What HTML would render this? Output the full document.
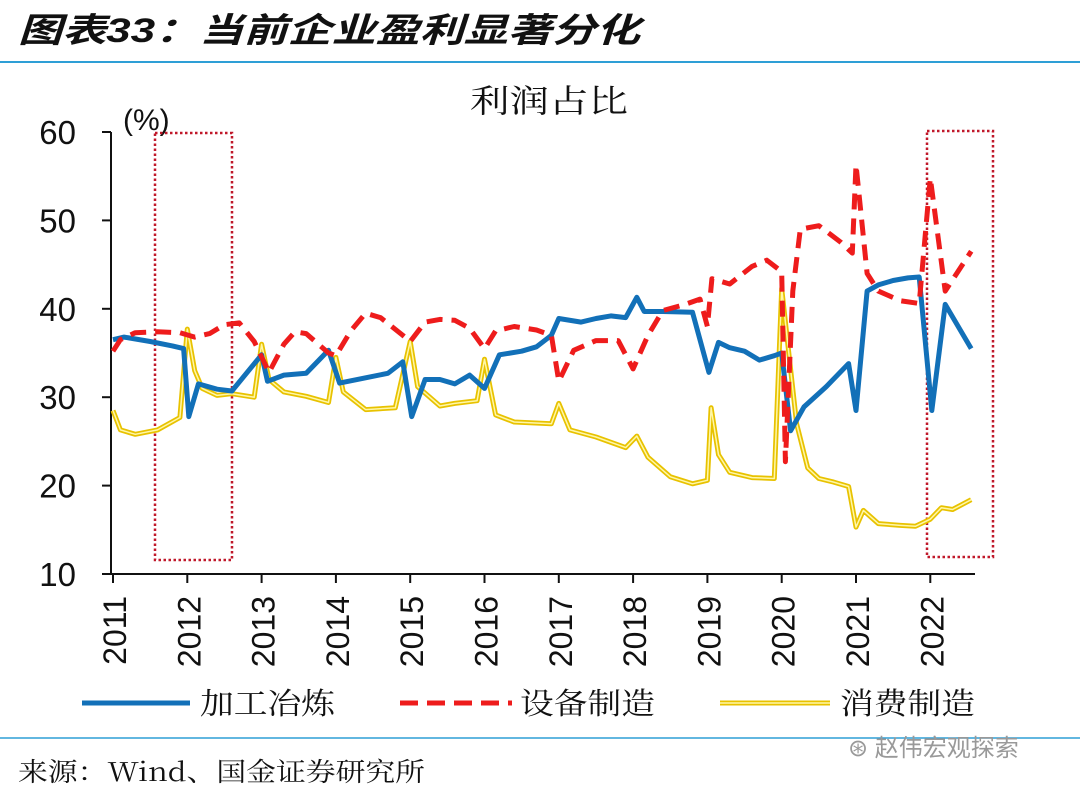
<!DOCTYPE html>
<html><head><meta charset="utf-8">
<style>
html,body{margin:0;padding:0;background:#fff;}
body{width:1080px;height:796px;overflow:hidden;position:relative;font-family:"Liberation Sans","Noto Sans CJK SC",sans-serif;}
</style></head>
<body>
<svg id="chart" width="1080" height="796" viewBox="0 0 1080 796" xmlns="http://www.w3.org/2000/svg">
<text x="18" y="42" font-size="34" font-weight="bold" font-style="italic" textLength="622" lengthAdjust="spacingAndGlyphs" font-family="Liberation Sans,Noto Sans CJK SC,sans-serif" fill="#111">图表33：当前企业盈利显著分化</text>
<line x1="0" y1="62" x2="1080" y2="62" stroke="#2e9fd6" stroke-width="2"/>
<text x="470" y="112" font-size="32" textLength="158" lengthAdjust="spacingAndGlyphs" font-family="Noto Serif CJK SC,serif" fill="#111">利润占比</text>
<text x="123" y="130" font-size="30" fill="#111">(%)</text>
<g id="axes"></g>
<g id="boxes"></g>
<g id="series"></g>
<g>
 <line x1="82" y1="703" x2="190" y2="703" stroke="#1270b8" stroke-width="5"/>
 <text x="200" y="714" font-size="30" textLength="135" lengthAdjust="spacingAndGlyphs" font-family="Noto Serif CJK SC,serif" fill="#111">加工冶炼</text>
 <line x1="400" y1="703" x2="512" y2="703" stroke="#ee1c1c" stroke-width="5" stroke-dasharray="18 9"/>
 <text x="520" y="714" font-size="30" textLength="135" lengthAdjust="spacingAndGlyphs" font-family="Noto Serif CJK SC,serif" fill="#111">设备制造</text>
 <line x1="720" y1="703" x2="830" y2="703" stroke="#e8c200" stroke-width="5"/>
 <line x1="720" y1="703" x2="830" y2="703" stroke="#fff7a8" stroke-width="1.5"/>
 <text x="840" y="714" font-size="30" textLength="135" lengthAdjust="spacingAndGlyphs" font-family="Noto Serif CJK SC,serif" fill="#111">消费制造</text>
</g>
<line x1="0" y1="738" x2="1080" y2="738" stroke="#2e9fd6" stroke-width="1.5"/>
<text x="848" y="756" font-size="24" fill="#999">⊛ 赵伟宏观探索</text>
<text x="18" y="781" font-size="26" textLength="407" lengthAdjust="spacingAndGlyphs" font-family="Noto Serif CJK SC,serif" fill="#111">来源：Wind、国金证券研究所</text>
</svg>
<script>
const yTicks=[10,20,30,40,50,60];
const xTicks=[2011,2012,2013,2014,2015,2016,2017,2018,2019,2020,2021,2022];
const procX=[2011.0,2011.15,2011.5,2011.8,2011.95,2012.02,2012.15,2012.4,2012.6,2013.0,2013.08,2013.3,2013.6,2013.9,2014.05,2014.4,2014.7,2014.9,2015.02,2015.2,2015.4,2015.6,2015.8,2016.0,2016.2,2016.5,2016.7,2016.9,2017.0,2017.3,2017.5,2017.7,2017.9,2018.05,2018.15,2018.4,2018.8,2019.02,2019.15,2019.3,2019.5,2019.7,2019.9,2020.0,2020.12,2020.3,2020.6,2020.9,2021.0,2021.15,2021.3,2021.5,2021.7,2021.85,2022.02,2022.2,2022.55];
const procY=[36.5,36.8,36.3,35.8,35.5,27.8,31.5,30.9,30.7,34.8,31.8,32.5,32.7,35.3,31.6,32.2,32.7,34.0,27.8,32.0,32.0,31.5,32.5,31.0,34.8,35.2,35.7,37.0,38.9,38.5,38.9,39.2,39.0,41.3,39.7,39.7,39.6,32.8,36.2,35.6,35.2,34.2,34.7,35.0,26.2,28.9,31.2,33.8,28.5,42.0,42.7,43.2,43.5,43.6,28.5,40.5,35.5];
const equipX=[2011.0,2011.1,2011.3,2011.6,2011.9,2012.1,2012.3,2012.5,2012.7,2012.9,2013.1,2013.3,2013.45,2013.6,2013.9,2014.0,2014.2,2014.4,2014.6,2014.9,2015.0,2015.2,2015.4,2015.6,2015.8,2016.0,2016.15,2016.4,2016.7,2016.9,2017.0,2017.2,2017.5,2017.8,2018.0,2018.2,2018.4,2018.7,2018.9,2019.0,2019.06,2019.3,2019.6,2019.8,2020.0,2020.05,2020.15,2020.25,2020.5,2020.8,2020.95,2021.0,2021.15,2021.3,2021.6,2021.85,2022.0,2022.2,2022.55];
const equipY=[35.2,36.5,37.3,37.4,37.3,36.8,37.2,38.2,38.4,36.3,32.8,36.0,37.4,37.2,35.0,34.7,37.5,39.5,39.0,37.0,36.3,38.5,38.8,38.7,37.8,35.5,37.5,38.0,37.6,37.0,31.8,35.3,36.4,36.4,33.2,37.0,39.8,40.5,41.1,38.0,43.4,42.8,44.8,45.5,44.2,22.7,42.0,49.0,49.4,47.5,46.3,56.3,44.0,42.0,40.9,40.6,54.8,42.0,46.5];
const consX=[2011.0,2011.1,2011.3,2011.6,2011.9,2012.0,2012.1,2012.2,2012.4,2012.6,2012.9,2013.0,2013.1,2013.3,2013.6,2013.9,2014.0,2014.1,2014.4,2014.8,2015.0,2015.1,2015.4,2015.6,2015.9,2016.0,2016.15,2016.4,2016.9,2017.0,2017.15,2017.5,2017.9,2018.05,2018.2,2018.5,2018.8,2019.0,2019.05,2019.15,2019.3,2019.6,2019.9,2020.0,2020.2,2020.35,2020.5,2020.7,2020.9,2021.0,2021.1,2021.3,2021.6,2021.8,2022.0,2022.15,2022.3,2022.55];
const consY=[28.5,26.3,25.8,26.3,27.7,37.7,33.0,31.0,30.2,30.4,30.0,36.0,32.0,30.6,30.1,29.4,34.5,30.6,28.6,28.8,36.3,31.2,29.0,29.3,29.6,34.3,28.0,27.2,27.0,29.3,26.3,25.5,24.3,25.6,23.2,21.0,20.2,20.6,28.8,23.5,21.5,20.9,20.8,42.3,27.0,22.0,20.8,20.4,19.9,15.3,17.2,15.7,15.5,15.4,16.2,17.5,17.3,18.4];

const NS='http://www.w3.org/2000/svg';
const X0=113, PXY=74.3, Y0=574, PXV=8.84;
function sx(v){return X0+(v-2011)*PXY;}
function sy(v){return Y0-(v-10)*PXV;}
function mk(tag,attrs,parent){const e=document.createElementNS(NS,tag);for(const k in attrs)e.setAttribute(k,attrs[k]);parent.appendChild(e);return e;}
const axes=document.getElementById('axes');
let e=mk('line',{x1:111,y1:sy(60),x2:111,y2:Y0+1,stroke:'#111','stroke-width':2},axes);


e=mk('line',{x1:102,y1:Y0,x2:975,y2:Y0,stroke:'#111','stroke-width':2},axes);


yTicks.forEach(v=>{
 const t=mk('line',{x1:102,y1:sy(v),x2:111,y2:sy(v),stroke:'#111','stroke-width':2},axes);
 
 
 const l=mk('text',{x:76,y:sy(v)+12,'font-size':33,'text-anchor':'end',fill:'#111'},axes);
 l.textContent=v;
 
 
});
xTicks.forEach(v=>{
 const x=sx(v);
 const t=mk('line',{x1:x,y1:Y0,x2:x,y2:Y0+9,stroke:'#111','stroke-width':2},axes);
 
 
 const l=mk('text',{x:0,y:0,'font-size':32,'text-anchor':'end',fill:'#111',transform:`translate(${x+13},596) rotate(-90)`},axes);
 l.textContent=v;
 
 
});
const boxes=document.getElementById('boxes');
e=mk('rect',{x:155,y:133,width:77,height:427,fill:'none',stroke:'#c0182a','stroke-width':2.5,'stroke-dasharray':'2.5 2.5'},boxes);


e=mk('rect',{x:927,y:131,width:66,height:426,fill:'none',stroke:'#c0182a','stroke-width':2.5,'stroke-dasharray':'2.5 2.5'},boxes);


function pts(xs,ys){return xs.map((x,i)=>sx(x).toFixed(1)+','+sy(ys[i]).toFixed(1)).join(' ');}
const g=document.getElementById('series');
e=mk('polyline',{points:pts(consX,consY),fill:'none',stroke:'#e8c200','stroke-width':5,'stroke-linejoin':'round'},g);


e=mk('polyline',{points:pts(consX,consY),fill:'none',stroke:'#fff7a8','stroke-width':1.5,'stroke-linejoin':'round'},g);


e=mk('polyline',{points:pts(procX,procY),fill:'none',stroke:'#1270b8','stroke-width':5,'stroke-linejoin':'round'},g);


e=mk('polyline',{points:pts(equipX,equipY),fill:'none',stroke:'#ee1c1c','stroke-width':5,'stroke-dasharray':'16 9','stroke-linejoin':'round'},g);


</script>
</body></html>
